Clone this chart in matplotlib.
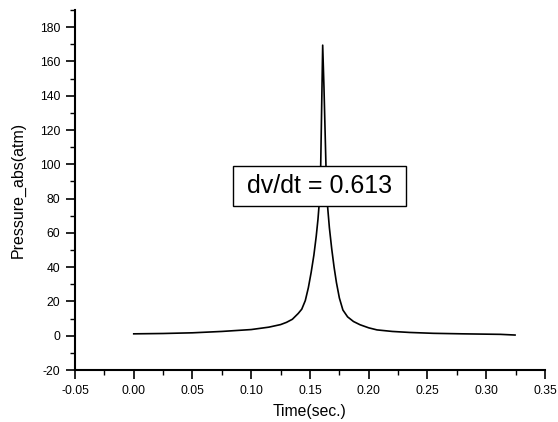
import matplotlib
matplotlib.use("Agg")
import matplotlib.pyplot as plt
from matplotlib.ticker import MultipleLocator, FormatStrFormatter
from matplotlib.patches import Rectangle

plt.rcParams['font.family'] = ['Liberation Sans', 'DejaVu Sans']
plt.rcParams['axes.unicode_minus'] = False

time_s = [0.000, 0.025, 0.050, 0.075, 0.100, 0.115, 0.125, 0.130, 0.135, 0.140,
          0.143, 0.146, 0.1486, 0.151, 0.1533, 0.1553, 0.1568, 0.1579, 0.1591,
          0.1602, 0.1608, 0.1619, 0.1636, 0.1647, 0.1665, 0.1685, 0.1705, 0.1725,
          0.175, 0.178, 0.182, 0.187, 0.1926, 0.200, 0.207, 0.220, 0.235,
          0.255, 0.280, 0.312, 0.3245]
pressure_atm = [1.1, 1.3, 1.7, 2.5, 3.6, 5.0, 6.5, 7.8, 9.6, 13.0,
                15.5, 20.5, 28.0, 37.0, 47.0, 58.0, 68.0, 77.6, 98.8,
                144.7, 169.5, 144.7, 98.8, 77.6, 63.0, 50.6, 40.0, 31.0,
                22.0, 15.0, 11.0, 8.3, 6.4, 4.6, 3.4, 2.5, 1.9,
                1.4, 1.1, 0.8, 0.4]
annotation = "dv/dt = 0.613"
annot_center = (0.158, 87.4)
annot_size = (0.147, 22.9)   # box width (s) and height (atm)

fig = plt.figure(figsize=(5.58, 4.22), dpi=100)
ax = fig.add_axes([0.1344, 0.1232, 0.8423, 0.8531])

ax.plot(time_s, pressure_atm, color='black', linewidth=1.2, solid_joinstyle='round')

ax.set_xlim(-0.05, 0.35)
ax.set_ylim(-20, 190)
ax.xaxis.set_major_locator(MultipleLocator(0.05))
ax.xaxis.set_minor_locator(MultipleLocator(0.025))
ax.xaxis.set_major_formatter(FormatStrFormatter('%.2f'))
ax.yaxis.set_minor_locator(MultipleLocator(10))
ax.set_yticks(range(-20, 181, 20))

for s in ['top', 'right']:
    ax.spines[s].set_visible(False)
for s in ['left', 'bottom']:
    ax.spines[s].set_linewidth(1.5)

ax.tick_params(axis='both', which='major', direction='out', length=6.5, width=1.2,
               labelsize=8.7, pad=4)
ax.tick_params(axis='both', which='minor', direction='out', length=3.5, width=1.0)

ax.set_xlabel('Time(sec.)', fontsize=11.3, labelpad=5)
ax.set_ylabel('Pressure_abs(atm)', fontsize=11.5, labelpad=10)

ax.add_patch(Rectangle((annot_center[0] - annot_size[0] / 2, annot_center[1] - annot_size[1] / 2),
                       annot_size[0], annot_size[1], facecolor='white', edgecolor='black',
                       linewidth=1.0, zorder=4))
ax.text(annot_center[0], annot_center[1], annotation, fontsize=18, ha='center', va='center',
        zorder=5)

fig.savefig('out.png', dpi=100)
